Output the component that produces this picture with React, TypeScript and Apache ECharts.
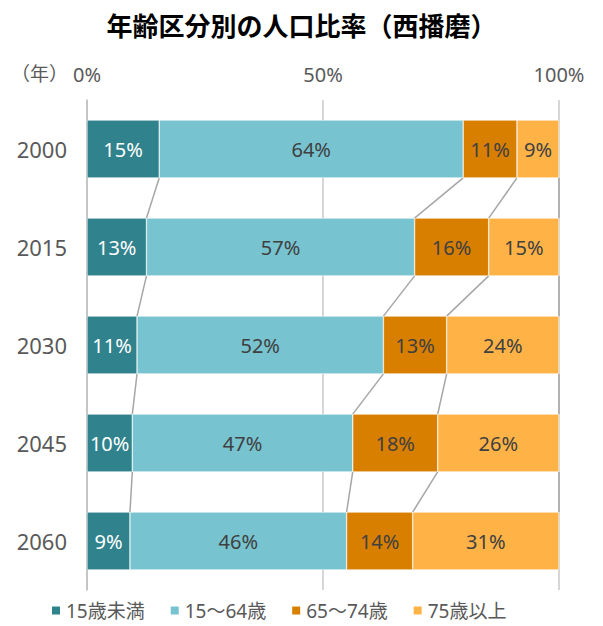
import React, { useEffect, useRef } from "react";
import * as echarts from "echarts";

const years = ["2000", "2015", "2030", "2045", "2060"];
const seriesNames = ["15歳未満", "15～64歳", "65～74歳", "75歳以上"];
const under15 = [15.3, 12.6, 10.6, 9.6, 9.1];
const age15to64 = [64.4, 56.8, 52.2, 46.7, 45.9];
const age65to74 = [11.4, 15.7, 13.4, 18.0, 14.0];
const age75plus = [8.9, 14.9, 23.8, 25.7, 31.0];
const xTickLabels = ["0%", "50%", "100%"];

const colors = ["#30828C", "#77C4D0", "#D97F00", "#FFB347"];
const FONT = "'Noto Sans', 'Noto Sans CJK JP', sans-serif";
const CJK = "'Noto Sans CJK JP', sans-serif";

export default function App() {
  const ref = useRef<HTMLDivElement>(null);
  useEffect(() => {
    if (!ref.current) return;
    const chart = echarts.init(ref.current, null, { renderer: "svg" });
    const all = [under15, age15to64, age65to74, age75plus];
    const connectors: number[][] = [];
    for (let i = 0; i < years.length - 1; i++) {
      let cTop = 0;
      let cBot = 0;
      for (let k = 0; k < all.length; k++) {
        cTop += all[k][i];
        cBot += all[k][i + 1];
        connectors.push([Math.min(cTop, 100), i, Math.min(cBot, 100)]);
      }
    }
    const barFrac = 0.59;
    const series: any[] = all.map((d, k) => ({
      name: seriesNames[k],
      type: "bar",
      stack: "total",
      barCategoryGap: "41%",
      data: d,
      itemStyle: { color: colors[k], borderColor: "#ffffff", borderWidth: 0.5 },
      label: {
        show: true,
        position: "inside",
        formatter: (p: any) => Math.round(p.value) + "%",
        color: k === 0 ? "#ffffff" : "#404040",
        fontSize: 20,
        fontFamily: FONT,
      },
      emphasis: { disabled: true },
    }));
    series.push({
      type: "custom",
      name: "connector",
      silent: true,
      z: 1,
      renderItem: (params: any, api: any) => {
        const xTop = api.value(0);
        const idx = api.value(1);
        const xBot = api.value(2);
        const p1 = api.coord([xTop, idx]);
        const p2 = api.coord([xBot, idx + 1]);
        const band = api.size([0, 1])[1];
        const h = (band * barFrac) / 2;
        return {
          type: "line",
          shape: { x1: p1[0], y1: p1[1] + h, x2: p2[0], y2: p2[1] - h },
          style: { stroke: "#A6A6A6", lineWidth: 1.5 },
        };
      },
      data: connectors,
    });
    chart.setOption({
      animation: false,
      title: {
        text: "年齢区分別の人口比率（西播磨）",
        left: "center",
        top: 6,
        textStyle: { fontSize: 26, fontWeight: "bold", color: "#000000", fontFamily: CJK },
      },
      legend: {
        bottom: 1,
        left: 45,
        itemWidth: 10,
        itemHeight: 10,
        itemGap: 24,
        icon: "rect",
        data: seriesNames,
        textStyle: { fontSize: 19, color: "#595959", fontFamily: FONT },
      },
      graphic: [
        {
          type: "text",
          left: 11,
          top: 63,
          style: { text: "（年）", fontSize: 19, fill: "#595959", fontFamily: CJK },
        },
      ],
      grid: { left: 87, right: 44, top: 100, bottom: 36 },
      xAxis: {
        type: "value",
        position: "top",
        min: 0,
        max: 100,
        interval: 50,
        axisLine: { show: false },
        axisTick: { show: false },
        splitLine: { show: true, lineStyle: { color: "#C8C8C8", width: 1.5 } },
        axisLabel: {
          fontSize: 20,
          color: "#595959",
          margin: 16,
          fontFamily: FONT,
          formatter: (v: number) => xTickLabels[Math.round(v / 50)] ?? v + "%",
        },
      },
      yAxis: {
        type: "category",
        inverse: true,
        data: years,
        axisLine: { show: true, lineStyle: { color: "#BFBFBF", width: 1.5 } },
        axisTick: { show: false },
        axisLabel: { fontSize: 22, color: "#595959", margin: 20, fontFamily: FONT },
      },
      series,
    });
    return () => chart.dispose();
  }, []);
  return <div ref={ref} style={{ width: 603, height: 626, position: "absolute", left: 0, top: 0 }} />;
}
